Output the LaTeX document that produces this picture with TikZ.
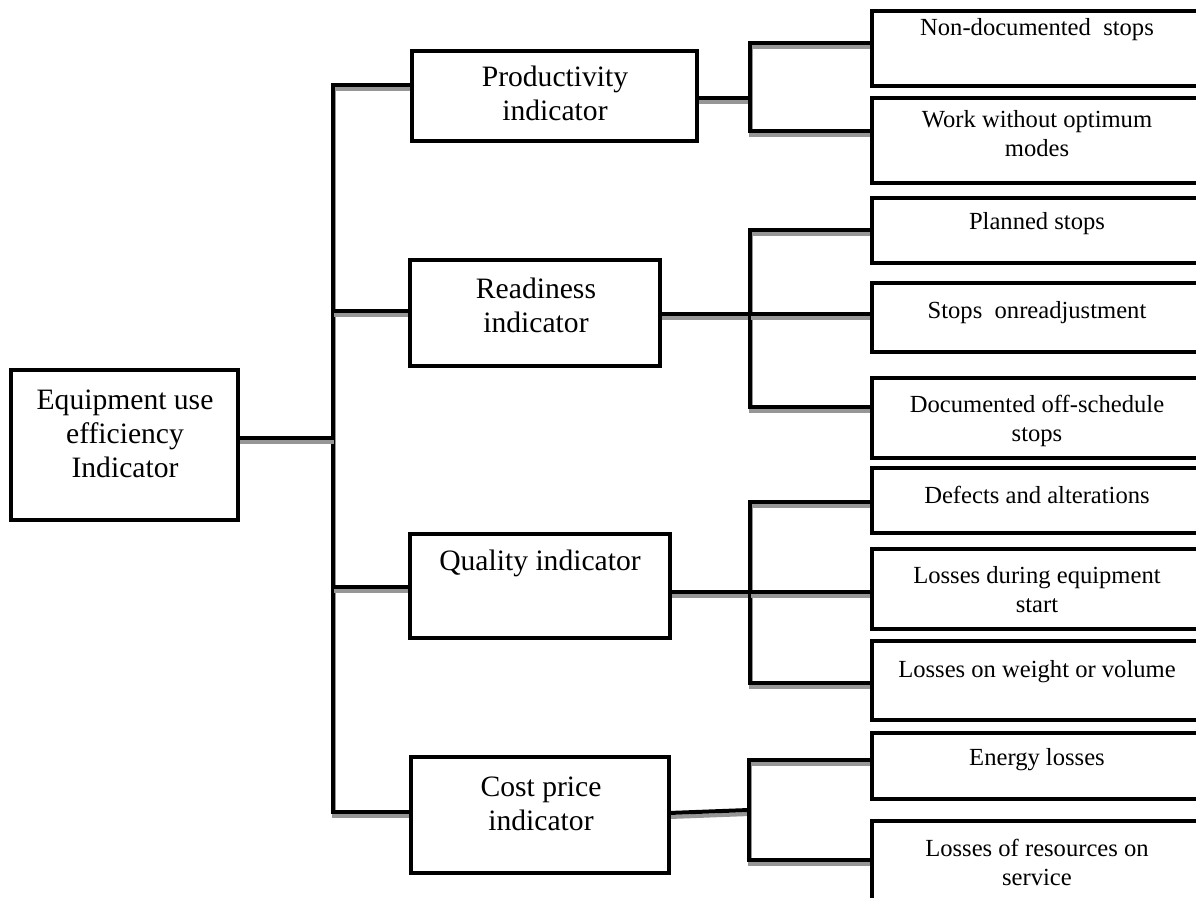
\documentclass[tikz,border=0pt]{standalone}
\usepackage{fontspec}
\setmainfont{Liberation Serif}
\pgfdeclarelayer{bg}
\pgfsetlayers{bg,main}
\definecolor{shd}{RGB}{150,150,150}
\begin{document}
\begin{tikzpicture}[x=0.5pt,y=-0.5pt,
  box/.style={draw, line width=2pt, fill=white, inner sep=0pt, outer sep=0pt},
  rbox/.style={box, minimum width=167pt},
  bigtxt/.style={align=center, inner sep=0pt, font=\fontsize{14.8}{17}\selectfont},
  smtxt/.style={align=center, inner sep=0pt, font=\fontsize{12.3}{14.5}\selectfont},
  conn/.style={line width=2pt, line join=miter,
    preaction={draw=shd, line width=2pt, transform canvas={shift={(0.5pt,-2pt)}}}}
]
\useasboundingbox (0,0) rectangle (1196,898);
\clip (0,0) rectangle (1196,898);

% level 0 and 1 boxes
\node[box, minimum width=113.5pt, minimum height=75pt] (main) at (124.5,445) {};
\node[bigtxt] (maint) at (125,434) {Equipment use\\efficiency\\Indicator};

\node[box, minimum width=142.5pt, minimum height=45pt] (prod) at (554.5,96) {};
\node[bigtxt] (prodt) at (555,93.5) {Productivity\\indicator};

\node[box, minimum width=125pt, minimum height=53pt] (read) at (535,313) {};
\node[bigtxt] (readt) at (536,305.5) {Readiness\\indicator};

\node[box, minimum width=130pt, minimum height=52pt] (qual) at (540,586) {};
\node[bigtxt] (qualt) at (540,563) {Quality indicator};

\node[box, minimum width=129pt, minimum height=58pt] (cost) at (540,815) {};
\node[bigtxt] (costt) at (541,803.5) {Cost price\\indicator};

% level 2 boxes
\node[rbox, minimum height=37.5pt] (nd) at (1039,48.5) {};
\node[smtxt] (ndt) at (1037,30) {Non-documented~~stops};
\node[rbox, minimum height=42.5pt] (wo) at (1039,140.5) {};
\node[smtxt] (wot) at (1037,134) {Work without optimum\\modes};

\node[rbox, minimum height=32.5pt] (pl) at (1039,230.5) {};
\node[smtxt] (plt) at (1037,224) {Planned stops};
\node[rbox, minimum height=34.5pt] (st) at (1039,317.5) {};
\node[smtxt] (stt) at (1037,313) {Stops~~onreadjustment};
\node[rbox, minimum height=40pt] (dc) at (1039,418) {};
\node[smtxt] (dct) at (1037,420.5) {Documented off-schedule\\stops};

\node[rbox, minimum height=32.5pt] (df) at (1039,500.5) {};
\node[smtxt] (dft) at (1037,495) {Defects and alterations};
\node[rbox, minimum height=40pt] (ld) at (1039,589) {};
\node[smtxt] (ldt) at (1037,589.5) {Losses during equipment\\start};
\node[rbox, minimum height=39.5pt] (lw) at (1039,680.5) {};
\node[smtxt] (lwt) at (1037,672) {Losses on weight or volume};

\node[rbox, minimum height=33pt] (en) at (1039,766) {};
\node[smtxt] (ent) at (1037,760) {Energy losses};
\node[rbox, minimum height=45.5pt] (lr) at (1039,866.5) {};
\node[smtxt] (lrt) at (1037,862.5) {Losses of resources on\\service};

% junction coordinates
\coordinate (T1) at (333,85);
\coordinate (T0) at (333,438);
\coordinate (T2) at (333,311);
\coordinate (T3) at (333,587);
\coordinate (T4) at (333,812);

\coordinate (P0) at (750,98);
\coordinate (Pa) at (750,43);
\coordinate (Pb) at (750,131);

\coordinate (R0) at (750,314);
\coordinate (Ra) at (750,230);
\coordinate (Rb) at (750,407);

\coordinate (Q0) at (750,592);
\coordinate (Qa) at (750,502);
\coordinate (Qb) at (750,683);

\coordinate (C0) at (749,810);
\coordinate (Ca) at (749,760);
\coordinate (Cb) at (749,860);

\begin{pgfonlayer}{bg}
  % trunk
  \draw[conn] (prod.west |- T1) -- (T1) -- (T4) -- (cost.west |- T4);
  \draw[conn] (main.east |- T0) -- (T0);
  \draw[conn] (T2) -- (read.west |- T2);
  \draw[conn] (T3) -- (qual.west |- T3);
  % productivity
  \draw[conn] (prod.east |- P0) -- (P0);
  \draw[conn] (nd.west |- Pa) -- (Pa) -- (Pb) -- (wo.west |- Pb);
  % readiness
  \draw[conn] (read.east |- R0) -- (R0);
  \draw[conn] (pl.west |- Ra) -- (Ra) -- (Rb) -- (dc.west |- Rb);
  \draw[conn] (R0) -- (st.west |- R0);
  % quality
  \draw[conn] (qual.east |- Q0) -- (Q0);
  \draw[conn] (df.west |- Qa) -- (Qa) -- (Qb) -- (lw.west |- Qb);
  \draw[conn] (Q0) -- (ld.west |- Q0);
  % cost
  \draw[conn] ([yshift=1pt]cost.east) -- (C0);
  \draw[conn] (en.west |- Ca) -- (Ca) -- (Cb) -- (lr.west |- Cb);
\end{pgfonlayer}
\end{tikzpicture}
\end{document}
